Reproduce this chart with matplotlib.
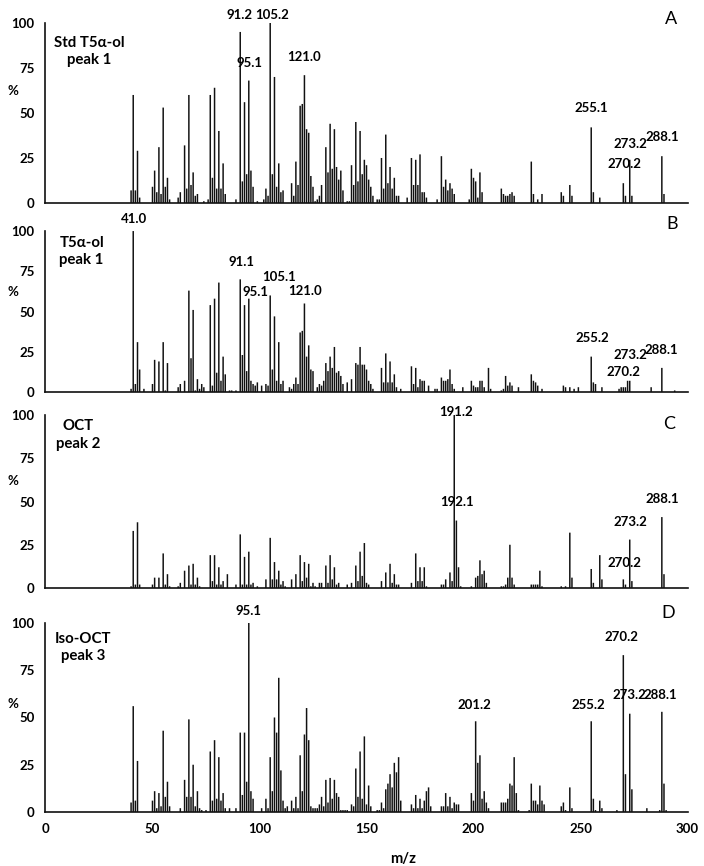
import matplotlib.pyplot as plt

plt.rcParams['font.family'] = ['Lato', 'DejaVu Sans']

# === Panel A: Std T5a-ol, peak 1 ===
a_mz = [40, 41, 42, 43, 44, 50, 51, 52, 53, 54, 55, 56, 57, 58,
        62, 63, 65, 66, 67, 68, 69, 70, 71, 74, 76, 77, 78, 79, 80, 81, 82, 83, 84,
        89, 91, 92, 93, 94, 95, 96, 97, 99, 102, 103, 104, 105, 106, 107, 108, 109, 110, 111,
        115, 116, 117, 118, 119, 120, 121, 122, 123, 124, 125, 126,
        127, 128, 129, 131, 132, 133, 134, 135, 136, 137, 138, 139,
        141, 142, 143, 144, 145, 146, 147, 148, 149, 150, 151, 152, 153,
        155, 156, 157, 158, 159, 160, 161, 162, 163, 164, 165,
        169, 171, 172, 173, 174, 175, 176, 177, 178,
        183, 185, 186, 187, 188, 189, 190, 191,
        198, 199, 200, 201, 202, 203, 204,
        213, 214, 215, 216, 217, 218, 219, 227, 228, 230, 232,
        241, 242, 245, 246, 255, 256, 259, 270, 271, 273, 274, 288, 289]
a_int = [7, 60, 7, 29, 3, 9, 18, 6, 31, 5, 53, 9, 14, 2,
         3, 6, 32, 8, 60, 10, 17, 4, 5, 1, 2, 60, 14, 64, 8, 40, 8, 22, 5,
         2, 95, 12, 56, 16, 68, 18, 9, 1, 2, 8, 4, 100, 16, 70, 9, 22, 6, 7,
         11, 4, 23, 10, 54, 55, 71, 41, 39, 15, 9, 1,
         2, 4, 10, 31, 17, 44, 19, 41, 20, 13, 18, 7,
         1, 1, 21, 10, 45, 12, 40, 16, 24, 21, 13, 9, 4,
         2, 2, 25, 8, 38, 11, 20, 8, 14, 4, 4,
         3, 25, 10, 24, 10, 27, 6, 6, 3,
         2, 26, 9, 13, 7, 11, 8, 5,
         2, 19, 14, 12, 3, 17, 6,
         8, 5, 4, 4, 5, 6, 4, 23, 5, 2, 5,
         6, 4, 10, 4, 42, 6, 3, 11, 4, 24, 4, 26, 5]

# === Panel B: T5a-ol, peak 1 ===
b_mz = [40, 41, 42, 43, 44, 46, 50, 51, 53, 55, 56, 57,
        62, 63, 65, 67, 68, 69, 70, 71, 72, 73, 74, 77, 78, 79, 80, 81, 82, 83, 84,
        86, 87, 89, 91, 92, 93, 94, 95, 96, 97, 98, 99,
        101, 103, 104, 105, 106, 107, 108, 109, 110, 111,
        114, 115, 116, 117, 118, 119, 120, 121, 122, 123, 124, 125,
        127, 128, 129, 130, 131, 132, 133, 134, 135, 136, 137, 138, 139,
        141, 143, 145, 146, 147, 148, 149, 150, 151, 152, 153,
        157, 158, 159, 160, 161, 162, 163, 164, 166,
        171, 172, 173, 174, 175, 176, 177, 179,
        182, 183, 185, 186, 187, 188, 189, 190, 191, 195,
        199, 200, 201, 202, 203, 204, 205, 207, 208,
        213, 214, 215, 216, 217, 218, 221, 227, 228, 229, 230, 232,
        242, 243, 245, 247, 249, 255, 256, 257, 260,
        268, 269, 270, 271, 272, 273, 283, 288, 294]
b_int = [2, 100, 5, 31, 14, 2, 5, 20, 19, 31, 1, 18,
         3, 5, 7, 63, 21, 51, 1, 8, 2, 5, 3, 54, 4, 58, 12, 68, 7, 22, 11,
         1, 1, 1, 70, 23, 54, 13, 58, 7, 5, 4, 6,
         4, 5, 4, 60, 14, 47, 7, 31, 5, 7,
         3, 2, 5, 9, 5, 37, 38, 55, 22, 29, 14, 13,
         3, 5, 4, 7, 18, 13, 22, 15, 28, 12, 13, 10, 5,
         6, 8, 18, 17, 28, 17, 17, 14, 7, 5, 2,
         15, 6, 24, 6, 19, 6, 11, 3, 2,
         16, 5, 15, 3, 8, 7, 7, 4,
         2, 2, 9, 7, 7, 8, 14, 5, 2, 3,
         7, 4, 3, 3, 7, 7, 3, 15, 2,
         1, 2, 10, 4, 6, 4, 3, 11, 7, 6, 4, 2,
         4, 3, 3, 2, 3, 22, 6, 5, 3,
         2, 3, 3, 3, 7, 7, 3, 15, 1]

# === Panel C: OCT, peak 2 ===
c_mz = [40, 41, 42, 43, 44, 50, 51, 53, 55, 56, 57, 58,
        62, 63, 65, 67, 68, 69, 70, 71, 72, 77, 78, 79, 80, 81, 82, 83, 85,
        89, 91, 92, 93, 94, 95, 96, 97, 99,
        103, 105, 106, 107, 108, 109, 110, 111, 112,
        115, 117, 119, 120, 121, 122, 123, 124, 125, 126,
        128, 129, 131, 132, 133, 134, 135, 136, 137,
        141, 143, 145, 146, 147, 148, 149, 150, 151,
        157, 159, 161, 162, 163, 164, 165,
        171, 173, 174, 175, 176, 177, 178,
        185, 186, 187, 189, 190, 191, 192, 193, 194,
        199, 201, 202, 203, 204, 205, 206,
        213, 214, 215, 216, 217, 218, 219, 227, 228, 229, 230, 231, 232,
        241, 243, 245, 246, 255, 256, 259, 260, 270, 271, 273, 274, 288, 289]
c_int = [1, 33, 2, 38, 2, 2, 6, 6, 20, 2, 8, 1,
         1, 3, 10, 13, 2, 14, 2, 6, 1, 19, 4, 19, 2, 12, 2, 4, 8,
         2, 31, 2, 18, 2, 21, 2, 3, 1,
         5, 29, 5, 15, 5, 10, 2, 4, 1,
         5, 8, 19, 4, 15, 6, 14, 1, 3, 1,
         3, 3, 13, 3, 19, 5, 12, 2, 3,
         2, 3, 13, 4, 21, 7, 26, 3, 2,
         4, 9, 14, 3, 8, 2, 2,
         3, 20, 4, 12, 4, 12, 1,
         2, 2, 5, 9, 4, 100, 39, 12, 1,
         1, 6, 7, 16, 8, 10, 3,
         1, 1, 2, 6, 25, 6, 2, 2, 2, 2, 2, 10, 1,
         1, 1, 32, 6, 11, 3, 19, 5, 5, 2, 28, 4, 41, 8]

# === Panel D: Iso-OCT, peak 3 ===
d_mz = [40, 41, 42, 43, 50, 51, 52, 53, 54, 55, 56, 57, 58,
        63, 65, 66, 67, 68, 69, 70, 71, 72, 73, 75,
        77, 78, 79, 80, 81, 82, 83, 84, 86, 89,
        91, 92, 93, 94, 95, 96, 97,
        101, 103, 104, 105, 106, 107, 108, 109, 110, 111, 112, 113,
        115, 116, 117, 118, 119, 120, 121, 122, 123, 124, 125,
        126, 127, 128, 129, 130, 131, 132, 133, 134, 135, 136, 137,
        138, 139, 140, 141, 143, 144, 145, 146, 147, 148, 149, 150, 151, 152,
        155, 156, 157, 158, 159, 160, 161, 162, 163, 164, 165, 166,
        171, 172, 173, 174, 175, 176, 177, 178, 179, 180,
        185, 186, 187, 188, 189, 190, 191, 192, 193,
        199, 200, 201, 202, 203, 204, 205, 206, 207,
        213, 214, 215, 216, 217, 218, 219, 220, 221,
        226, 227, 228, 229, 230, 231, 232, 233,
        241, 242, 243, 245, 246, 255, 256, 257, 259, 260,
        267, 270, 271, 273, 274, 281, 287, 288, 289, 290]
d_int = [5, 56, 6, 27, 6, 11, 2, 10, 3, 43, 8, 16, 3,
         2, 17, 8, 49, 8, 25, 3, 11, 2, 1, 1,
         32, 6, 38, 7, 29, 6, 10, 2, 2, 2,
         42, 9, 42, 16, 100, 11, 7,
         2, 7, 2, 29, 11, 50, 42, 71, 22, 6, 2, 3,
         6, 2, 8, 2, 30, 11, 41, 55, 38, 3, 2,
         2, 2, 4, 8, 3, 17, 5, 18, 7, 17, 10, 8,
         1, 1, 1, 1, 4, 3, 23, 8, 32, 7, 40, 4, 14, 3,
         1, 1, 5, 2, 12, 15, 20, 13, 26, 21, 29, 6,
         4, 2, 9, 2, 7, 2, 6, 11, 13, 3,
         3, 3, 10, 3, 8, 2, 5, 4, 4,
         10, 6, 48, 26, 30, 7, 11, 5, 2,
         5, 5, 5, 7, 15, 14, 29, 10, 1,
         1, 15, 6, 6, 4, 14, 6, 4,
         3, 5, 1, 13, 2, 48, 7, 1, 6, 2,
         1, 83, 20, 52, 12, 2, 1, 53, 15, 1]

# === Подписи ===
a_peaks = ['91.2', '105.2', '95.1', '121.0', '255.1', '273.2', '288.1', '270.2']
b_peaks = ['41.0', '91.1', '95.1', '105.1', '121.0', '255.2', '273.2', '288.1', '270.2']
c_peaks = ['191.2', '192.1', '288.1', '273.2', '270.2']
d_peaks = ['95.1', '270.2', '273.2', '288.1', '255.2', '201.2']

# positions of the peak labels (data coords, text centre)
a_pos = [(90.8, 104.4), (106.0, 104.4), (95.2, 77.9), (120.8, 81.3),
         (255.2, 52.6), (273.1, 32.8), (288.2, 36.8), (270.3, 21.7)]
b_pos = [(41.5, 107.5), (91.6, 80.9), (98.2, 61.9), (109.1, 71.2), (121.5, 62.5),
         (255.5, 33.3), (273.1, 23.0), (287.9, 26.0), (270.0, 12.2)]
c_pos = [(191.6, 101.9), (192.1, 49.5), (288.2, 51.3), (273.4, 38.3), (270.3, 14.6)]
d_pos = [(94.8, 106.5), (269.2, 92.4), (272.7, 61.9), (287.1, 61.9), (253.6, 56.6), (200.5, 56.6)]

panels = [
    # rect, mz, int, title, title pos, letter, letter pos, peaks, peak pos, % y
    ([0.0646, 0.7656, 0.912, 0.2079], a_mz, a_int, 'Std T5α-ol\npeak 1', (20.5, 84), 'A', (292.5, 102.2), a_peaks, a_pos, 62),
    ([0.0646, 0.5473, 0.912, 0.1859], b_mz, b_int, 'T5α-ol\npeak 1', (16.9, 87.1), 'B', (292.8, 104.3), b_peaks, b_pos, 62),
    ([0.0646, 0.3210, 0.912, 0.1998], c_mz, c_int, 'OCT\npeak 2', (15.3, 88.4), 'C', (291.3, 94.8), c_peaks, c_pos, 62),
    ([0.0646, 0.0624, 0.912, 0.2182], d_mz, d_int, 'Iso-OCT\npeak 3', (17.7, 86.9), 'D', (291.0, 105.4), d_peaks, d_pos, 57),
]

fs = 9.5

fig = plt.figure(figsize=(7.04, 8.66), dpi=100)

for i, (rect, mz, inten, title, tpos, letter, lpos, peaks, ppos, pct_y) in enumerate(panels):
    ax = fig.add_axes(rect)
    bars = ax.bar(mz, inten, width=0.7, color='#111111', linewidth=0)
    for b in bars:
        b.set_snap(False)
    ax.set_xlim(0, 300)
    ax.set_ylim(0, 100)
    ax.set_yticks([0, 25, 50, 75, 100])
    ax.set_xticks([0, 50, 100, 150, 200, 250, 300])
    ax.tick_params(length=0, pad=8, labelsize=fs)
    for lab in ax.get_yticklabels() + ax.get_xticklabels():
        lab.set_fontweight('bold')
    if i < 3:
        ax.set_xticklabels([])
    for s in ['top', 'right']:
        ax.spines[s].set_visible(False)
    for s in ['left', 'bottom']:
        ax.spines[s].set_linewidth(1.2)
        ax.spines[s].set_color('#111111')

    ax.text(tpos[0], tpos[1], title, ha='center', va='center', fontsize=10.8,
            fontweight='bold', linespacing=1.3)
    ax.text(lpos[0], lpos[1], letter, ha='center', va='center', fontsize=13)
    ax.text(-0.0506, pct_y, '%', transform=ax.get_yaxis_transform(), ha='center',
            va='center', fontsize=fs, fontweight='bold')
    for txt, (px, py) in zip(peaks, ppos):
        ax.text(px, py, txt, ha='center', va='center', fontsize=fs,
                fontweight='bold', clip_on=False)

    if i == 3:
        ax.set_xlabel('m/z', fontsize=fs + 1, fontweight='bold')
        ax.xaxis.set_label_coords(0.557, -0.212)

fig.savefig('out.png', dpi=100)
